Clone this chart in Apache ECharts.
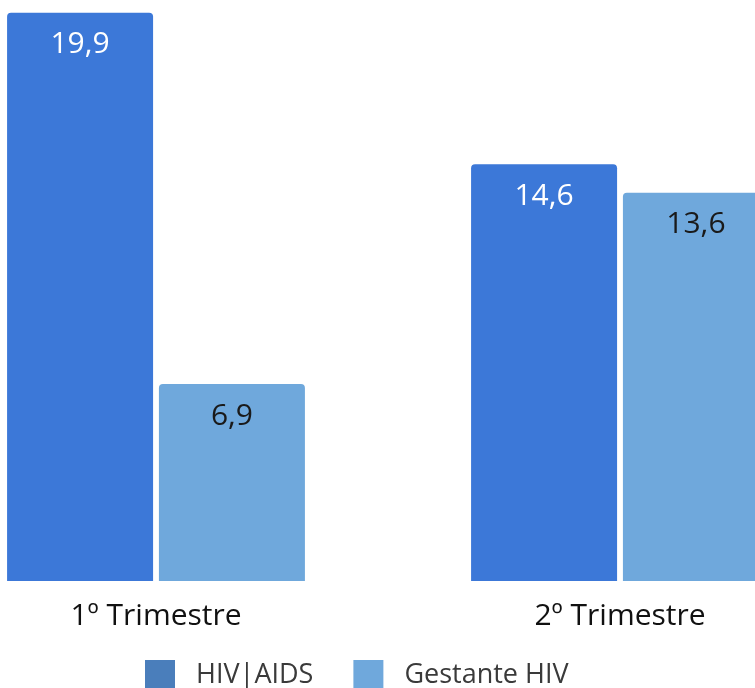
<!DOCTYPE html>
<html>
<head>
<meta charset="utf-8">
<style>
  html, body { margin: 0; padding: 0; background: #fff; overflow: hidden; width: 755px; height: 688px; }
  /* the plot runs past both window edges, so the chart canvas is wider than the page */
  #chart { width: 928px; height: 688px; margin-left: -76px; }
</style>
<script src="https://cdn.jsdelivr.net/npm/echarts@6/dist/echarts.min.js"></script>
</head>
<body>
<div id="chart"></div>
<script>
// Quarters and rates per series
const categories = ['1º Trimestre', '2º Trimestre'];
const hivAids = [19.9, 14.6];
const gestanteHiv = [6.9, 13.6];
const seriesNames = ['HIV|AIDS', 'Gestante HIV'];

const FONT = '"Open Sans", "Noto Sans", sans-serif';
const fmt = p => String(p.value).replace('.', ',');

const chart = echarts.init(document.getElementById('chart'), null, { renderer: 'canvas' });
chart.setOption({
  animation: false,
  backgroundColor: '#ffffff',
  grid: { left: 0, right: 0, top: 10, bottom: 107, containLabel: false },
  legend: {
    top: 660,
    left: 221,
    itemWidth: 30,
    itemHeight: 30,
    itemGap: 40,
    icon: 'rect',
    padding: 0,
    textStyle: { fontFamily: FONT, fontSize: 27, color: '#3a3a3a', padding: [0, 0, 0, 16] },
    data: [
      { name: seriesNames[0], itemStyle: { color: '#4A7EBB' } },
      { name: seriesNames[1], itemStyle: { color: '#6FA8DC' } }
    ]
  },
  xAxis: {
    type: 'category',
    data: categories,
    axisLine: { show: false },
    axisTick: { show: false },
    axisLabel: { fontFamily: FONT, fontSize: 30, color: '#111', margin: 20 }
  },
  yAxis: {
    type: 'value',
    min: 0,
    max: 20,
    show: false,
    splitLine: { show: false }
  },
  series: [
    {
      name: seriesNames[0],
      type: 'bar',
      data: hivAids,
      barWidth: 146,
      barGap: '4%',
      itemStyle: { color: '#3C78D8', borderRadius: [4, 4, 0, 0] },
      label: {
        show: true, position: 'insideTop', distance: 17,
        formatter: fmt, fontFamily: FONT, fontSize: 30, color: '#ffffff'
      }
    },
    {
      name: seriesNames[1],
      type: 'bar',
      data: gestanteHiv,
      barWidth: 146,
      itemStyle: { color: '#6FA8DC', borderRadius: [4, 4, 0, 0] },
      label: {
        show: true, position: 'insideTop', distance: 17,
        formatter: fmt, fontFamily: FONT, fontSize: 30, color: '#1a1a1a'
      }
    }
  ]
});
</script>
</body>
</html>
